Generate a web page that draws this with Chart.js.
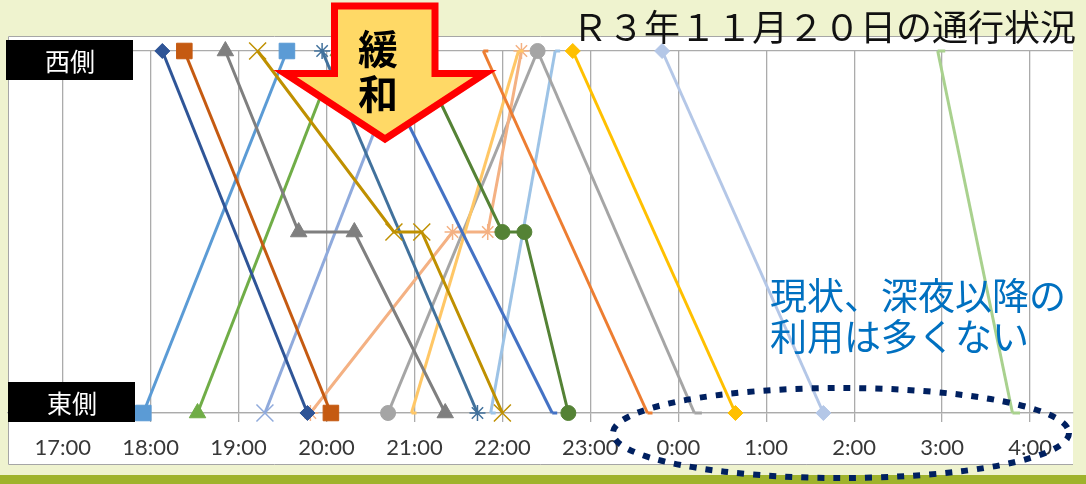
<!DOCTYPE html>
<html lang="ja">
<head>
<meta charset="utf-8">
<title>R３年１１月２０日の通行状況</title>
<script src="https://cdn.jsdelivr.net/npm/chart.js@4.4.1/dist/chart.umd.min.js"></script>
<style>
  html, body { margin: 0; padding: 0; background: #EFF3CF; }
  #wrap { position: relative; width: 1086px; height: 484px; overflow: hidden; }
  #c { position: absolute; left: 0; top: 0; }
  #ov { position: absolute; left: 0; top: 0; pointer-events: none; }
</style>
</head>
<body>
<div id="wrap">
  <canvas id="c" width="1086" height="484"></canvas>
  <svg id="ov" width="1086" height="484" viewBox="0 0 1086 484" xmlns="http://www.w3.org/2000/svg">
    <!-- side labels on the vertical axis -->
    <rect x="6" y="40" width="127" height="40" fill="#000"/>
    <text x="70" y="71" fill="#fff" font-family="Noto Sans CJK JP" font-size="25" text-anchor="middle">西側</text>
    <rect x="8" y="382" width="127" height="40" fill="#000"/>
    <text x="72" y="413" fill="#fff" font-family="Noto Sans CJK JP" font-size="25" text-anchor="middle">東側</text>

    <!-- title -->
    <text x="572" y="41" fill="#111" font-family="Noto Sans CJK JP" font-size="36">Ｒ３年１１月２０日の通行状況</text>

    <!-- relaxation arrow -->
    <polygon points="334.5,6 435,6 435,73.5 485,73.5 385,139 285,73.5 334.5,73.5"
             fill="#FFD966" stroke="#FF0000" stroke-width="7" stroke-linejoin="miter"/>
    <text x="378" y="64" fill="#000" font-family="Noto Sans CJK JP" font-weight="bold" font-size="40" text-anchor="middle">緩</text>
    <text x="378" y="109" fill="#000" font-family="Noto Sans CJK JP" font-weight="bold" font-size="40" text-anchor="middle">和</text>

    <!-- late-night note -->
    <text x="770" y="310" fill="#0070C0" font-family="Noto Sans CJK JP" font-size="37">現状、深夜以降の</text>
    <text x="770" y="351" fill="#0070C0" font-family="Noto Sans CJK JP" font-size="37">利用は多くない</text>
    <ellipse cx="841" cy="433" rx="228" ry="45" fill="none" stroke="#002060" stroke-width="6" stroke-dasharray="7 9"/>
  </svg>
</div>
<script>
// Hour labels along the time axis (17:00 through 4:00 the next morning)
const hourTicks = ['17:00', '18:00', '19:00', '20:00', '21:00', '22:00', '23:00',
                   '0:00', '1:00', '2:00', '3:00', '4:00'];

// Each run: passing times and position (1 = 西側, 0.5 = 途中待避, 0 = 東側)
const times01 = ['18:08', '19:47'];                    const sides01 = [1, 0];
const times02 = ['18:23', '20:03'];                    const sides02 = [1, 0];
const times03 = ['18:51', '19:41', '20:19', '21:21'];  const sides03 = [1, 0.5, 0.5, 0];
const times04 = ['19:13', '20:46', '21:05', '22:00'];  const sides04 = [1, 0.5, 0.5, 0];
const times05 = ['17:55', '19:33'];                    const sides05 = [0, 1];
const times06 = ['19:57', '21:43'];                    const sides06 = [1, 0];
const times07 = ['18:32', '20:08'];                    const sides07 = [0, 1];
const times08 = ['19:18', '20:54'];                    const sides08 = [0, 1];
const times09 = ['20:31', '22:34'];                    const sides09 = [1, 0];
const times10 = ['21:01', '22:00', '22:15', '22:45'];  const sides10 = [1, 0.5, 0.5, 0];
const times11 = ['21:47', '23:39'];                    const sides11 = [1, 0];
const times12 = ['20:58', '22:11'];                    const sides12 = [0, 1];
const times13 = ['19:49', '21:26', '21:50', '22:13'];  const sides13 = [0, 0.5, 0.5, 1];
const times14 = ['20:42', '22:24'];                    const sides14 = [0, 1];
const times15 = ['22:24', '0:11'];                     const sides15 = [1, 0];
const times16 = ['21:52', '22:36'];                    const sides16 = [0, 1];
const times17 = ['22:48', '0:39'];                     const sides17 = [1, 0];
const times18 = ['23:49', '1:39'];                     const sides18 = [1, 0];
const times19 = ['2:57', '3:48'];                      const sides19 = [1, 0];

const runTimes = [times01, times02, times03, times04, times05, times06, times07, times08, times09, times10,
                  times11, times12, times13, times14, times15, times16, times17, times18, times19];
const runSides = [sides01, sides02, sides03, sides04, sides05, sides06, sides07, sides08, sides09, sides10,
                  sides11, sides12, sides13, sides14, sides15, sides16, sides17, sides18, sides19];

// Line colours and marker shapes per run
const lineColors = ['#2F5597', '#C55A11', '#7F7F7F', '#BF9000', '#5B9BD5', '#41719C', '#70AD47', '#8FAADC',
                    '#4472C4', '#548235', '#ED7D31', '#FFC766', '#F4B183', '#A5A5A5', '#A5A5A5', '#9DC3E6',
                    '#FFC000', '#B4C7E7', '#A9D18E'];
const markerStyles = ['rectRot', 'rect', 'triangle', 'crossRot', 'rect', 'star', 'triangle', 'crossRot',
                      'dash', 'circle', 'dash', 'dash', 'star', 'circle', 'dash', 'dash',
                      'rectRot', 'rectRot', 'dash'];
const markerRadius = { rectRot: 7.5, rect: 11, triangle: 9.5, crossRot: 12, star: 8, circle: 7.5, dash: 5 };
const markerStroke = { rectRot: 1, rect: 1, triangle: 1, crossRot: 1.5, star: 1.5, circle: 1, dash: 3 };
const wideDash = [14, 18]; // runs drawn with a longer end bar

// "H:MM" -> minutes on a 17:00..28:59 clock (after-midnight times roll past 24:00)
function toMinutes(s) {
  const [h, m] = s.split(':').map(Number);
  return (h < 12 ? h + 24 : h) * 60 + m;
}

const datasets = runTimes.map((times, i) => {
  const style = markerStyles[i];
  return {
    label: 'run' + (i + 1),
    data: times.map((t, j) => ({ x: toMinutes(t), y: runSides[i][j] })),
    borderColor: lineColors[i],
    backgroundColor: lineColors[i],
    pointBackgroundColor: lineColors[i],
    pointBorderColor: lineColors[i],
    borderWidth: 3,
    pointStyle: style,
    pointRadius: (style === 'dash' && wideDash.includes(i)) ? 7.5 : markerRadius[style],
    pointBorderWidth: markerStroke[style],
    tension: 0,
    fill: false,
    clip: false
  };
});

// White chart panel, its frame and the olive strip along the bottom
const panelPlugin = {
  id: 'panel',
  beforeDraw(chart) {
    const ctx = chart.ctx;
    ctx.save();
    ctx.fillStyle = '#FFFFFF';
    ctx.fillRect(8, 36, 1065, 429);
    ctx.strokeStyle = '#A6A6A6';
    ctx.lineWidth = 1;
    ctx.beginPath();
    ctx.moveTo(1073, 36.5); ctx.lineTo(8.5, 36.5); ctx.lineTo(8.5, 464.5); ctx.lineTo(1073, 464.5);
    ctx.stroke();
    ctx.fillStyle = '#9FB32C';
    ctx.fillRect(0, 475, 1086, 9);
    ctx.restore();
  }
};

const gridColor = '#ABABAB';

new Chart(document.getElementById('c'), {
  type: 'line',
  data: { datasets },
  plugins: [panelPlugin],
  options: {
    responsive: false,
    devicePixelRatio: 1,
    animation: false,
    layout: { autoPadding: false, padding: { left: 8, right: 13, top: 51, bottom: 0 } },
    plugins: { legend: { display: false }, tooltip: { enabled: false }, title: { display: false } },
    scales: {
      x: {
        type: 'linear',
        min: 982.7,
        max: 1709.3,
        afterBuildTicks(scale) {
          scale.ticks = hourTicks.map(t => ({ value: toMinutes(t) }));
        },
        afterFit(scale) {
          scale.height = 71;
          scale.paddingLeft = 0;
          scale.paddingRight = 0;
        },
        grid: { color: gridColor, lineWidth: 1.3, tickLength: 9, drawTicks: true },
        border: { display: true, color: gridColor, width: 1.3 },
        ticks: {
          autoSkip: false,
          maxRotation: 0,
          padding: 13,
          color: '#383838',
          font: { family: 'Lato', size: 22 },
          callback: (value, index) => hourTicks[index]
        }
      },
      y: {
        type: 'linear',
        min: 0,
        max: 1,
        afterBuildTicks(scale) {
          scale.ticks = [{ value: 0 }, { value: 1 }];
        },
        afterFit(scale) { scale.width = 0; },
        grid: { color: gridColor, lineWidth: 1.3, drawTicks: false },
        border: { display: false },
        ticks: { display: false }
      }
    }
  }
});
</script>
</body>
</html>
